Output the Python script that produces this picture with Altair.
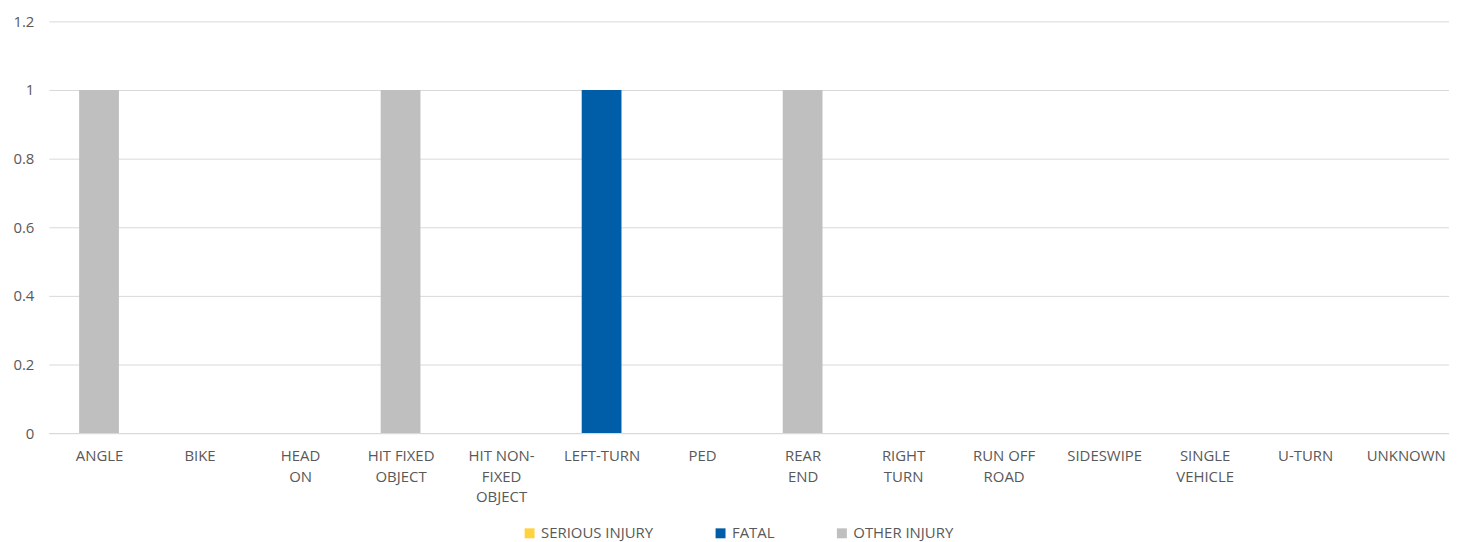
import altair as alt
import pandas as pd

categories = ["ANGLE", "BIKE", "HEAD ON", "HIT FIXED OBJECT", "HIT NON-FIXED OBJECT",
              "LEFT-TURN", "PED", "REAR END", "RIGHT TURN", "RUN OFF ROAD",
              "SIDESWIPE", "SINGLE VEHICLE", "U-TURN", "UNKNOWN"]
tick_lines = [["ANGLE"], ["BIKE"], ["HEAD", "ON"], ["HIT FIXED", "OBJECT"],
              ["HIT NON-", "FIXED", "OBJECT"], ["LEFT-TURN"], ["PED"], ["REAR", "END"],
              ["RIGHT", "TURN"], ["RUN OFF", "ROAD"], ["SIDESWIPE"], ["SINGLE", "VEHICLE"],
              ["U-TURN"], ["UNKNOWN"]]
series = ["SERIOUS INJURY", "FATAL", "OTHER INJURY"]
colors = ["#FFD23F", "#005EA8", "#BFBFBF"]
serious = [0, 0, 0, 0, 0, 0, 0, 0, 0, 0, 0, 0, 0, 0]
fatal = [0, 0, 0, 0, 0, 1, 0, 0, 0, 0, 0, 0, 0, 0]
other = [1, 0, 0, 1, 0, 0, 0, 1, 0, 0, 0, 0, 0, 0]
y_ticks = [0, 0.2, 0.4, 0.6, 0.8, 1, 1.2]

rows = []
for vals, name, order in zip([serious, fatal, other], series, range(3)):
    for i, (c, v) in enumerate(zip(categories, vals)):
        rows.append({"idx": i, "cat": c, "series": name, "value": v, "ord": order})
df = pd.DataFrame(rows)

label_expr = "[" + ",".join(
    "[" + ",".join("'" + s + "'" for s in lines) + "]" for lines in tick_lines
) + "][datum.value]"

W = 1408
step = 101.07
font = "Open Sans"
fs = 15
chart = alt.Chart(df).mark_bar(size=40).encode(
    x=alt.X("idx:Q", title=None,
            scale=alt.Scale(domain=[-0.5, -0.5 + W / step], nice=False, zero=False,
                            padding=0),
            axis=alt.Axis(values=list(range(len(categories))), labelExpr=label_expr,
                          labelAngle=0, ticks=False, domain=True, domainColor="#D9D9D9",
                          labelPadding=16, labelLineHeight=20.5, labelBaseline="top",
                          labelFontSize=fs, labelColor="#595959", labelFont=font,
                          labelFlush=False, labelOverlap=False, grid=False)),
    y=alt.Y("value:Q", title=None, stack="zero",
            scale=alt.Scale(domain=[0, 1.2], nice=False),
            axis=alt.Axis(values=y_ticks, format=".1~f", domain=False, ticks=False,
                          gridColor="#D9D9D9", gridWidth=1, labelPadding=15,
                          labelFontSize=fs, labelColor="#595959", labelFont=font)),
    color=alt.Color("series:N", sort=series,
                    scale=alt.Scale(domain=series, range=colors),
                    legend=alt.Legend(title=None, orient="none", legendX=476, legendY=507,
                                      direction="horizontal", symbolType="square",
                                      symbolSize=100, symbolStrokeWidth=0,
                                      columnPadding=60, labelFontSize=fs,
                                      labelColor="#595959", labelFont=font,
                                      labelOffset=4)),
    order=alt.Order("ord:Q"),
    tooltip=["cat:N", "series:N", "value:Q"],
).properties(
    width=W, height=414,
    autosize=alt.AutoSizeParams(type="none"),
    padding={"left": 41, "top": 12, "right": 0, "bottom": 108},
).configure_view(stroke=None)

chart.save("out.html", embed_options={"renderer": "svg", "actions": False})
